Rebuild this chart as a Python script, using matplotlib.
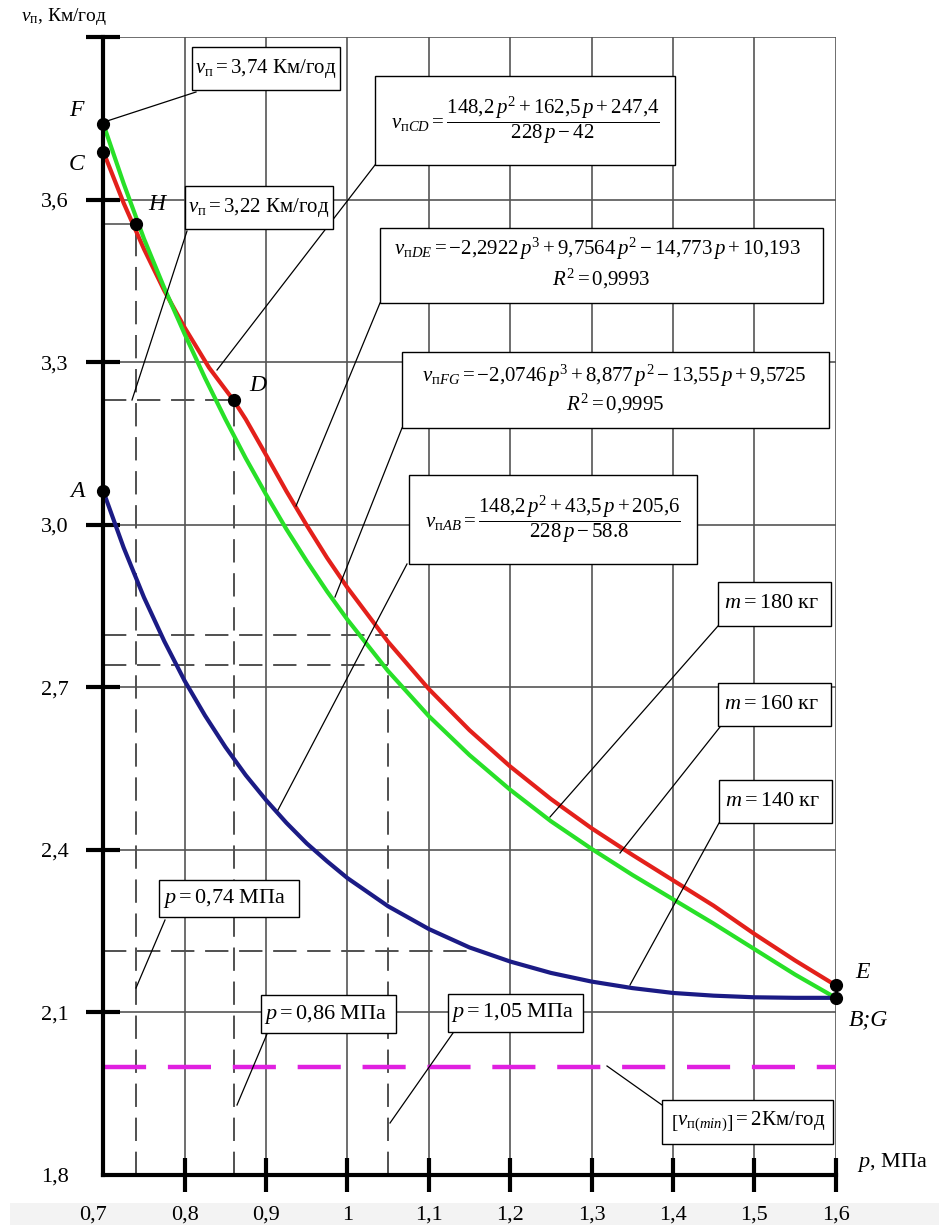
import matplotlib
matplotlib.use('Agg')
import matplotlib.pyplot as plt
from matplotlib.patches import Rectangle
from matplotlib.transforms import ScaledTranslation

plt.rcParams['font.family'] = ['Liberation Serif', 'DejaVu Serif']
plt.rcParams['mathtext.fontset'] = 'custom'
plt.rcParams['mathtext.rm'] = 'Liberation Serif'
plt.rcParams['mathtext.it'] = 'Liberation Serif:italic'
plt.rcParams['mathtext.bf'] = 'Liberation Serif:bold'

# ---------------- data ----------------
p_AB = [0.70, 0.725, 0.75, 0.775, 0.80, 0.825, 0.85, 0.875, 0.90, 0.925, 0.95, 0.975,
        1.00, 1.05, 1.10, 1.15, 1.20, 1.25, 1.30, 1.35, 1.40, 1.45, 1.50, 1.55, 1.60]
v_AB = [3.062, 2.958, 2.866, 2.785, 2.712, 2.648, 2.590, 2.538, 2.492, 2.450, 2.412, 2.379,
        2.348, 2.296, 2.254, 2.220, 2.194, 2.173, 2.157, 2.145, 2.136, 2.131, 2.128, 2.127, 2.127]

p_FG = [0.70, 0.725, 0.75, 0.775, 0.80, 0.825, 0.85, 0.875, 0.90, 0.925, 0.95, 0.975,
        1.00, 1.05, 1.10, 1.15, 1.20, 1.25, 1.30, 1.35, 1.40, 1.45, 1.50, 1.55, 1.60]
v_FG = [3.740, 3.630, 3.528, 3.437, 3.352, 3.271, 3.195, 3.123, 3.056, 2.992, 2.933, 2.877,
        2.825, 2.730, 2.647, 2.575, 2.511, 2.453, 2.402, 2.354, 2.309, 2.264, 2.217, 2.170, 2.127]

p_CD = [0.70, 0.725, 0.75, 0.775, 0.80, 0.83, 0.86]
v_CD = [3.689, 3.594, 3.509, 3.432, 3.364, 3.290, 3.230]

p_DE = [0.86, 0.875, 0.90, 0.925, 0.95, 0.975, 1.00, 1.05, 1.10, 1.15, 1.20, 1.25,
        1.30, 1.35, 1.40, 1.45, 1.50, 1.55, 1.60]
v_DE = [3.230, 3.195, 3.129, 3.062, 2.999, 2.939, 2.884, 2.784, 2.697, 2.621, 2.554, 2.494,
        2.440, 2.391, 2.344, 2.297, 2.245, 2.196, 2.150]

pt_names = ['F', 'C', 'H', 'D', 'A', 'E', 'B;G']
pt_p = [0.70, 0.70, 0.74, 0.86, 0.70, 1.60, 1.60]
pt_v = [3.740, 3.689, 3.555, 3.230, 3.062, 2.150, 2.127]

ref_vert_p = [0.74, 0.86, 1.05]
ref_vert_top = [3.555, 3.230, 2.797]
ref_hor_v = [3.230, 2.797, 2.741, 2.213]
ref_hor_end = [0.86, 1.05, 1.05, 1.152]
v_min = 2.0

x_ticks = [0.7, 0.8, 0.9, 1.0, 1.1, 1.2, 1.3, 1.4, 1.5, 1.6]
x_labels = ['0,7', '0,8', '0,9', '1', '1,1', '1,2', '1,3', '1,4', '1,5', '1,6']
y_ticks = [1.8, 2.1, 2.4, 2.7, 3.0, 3.3, 3.6, 3.9]
y_labels = ['1,8', '2,1', '2,4', '2,7', '3,0', '3,3', '3,6', '']

# ---------------- layout helpers ----------------
W, H = 939, 1225
X0, XPX = 103.3, 813.8     # pixel of p=0.7, pixels per unit of p
Y0, YPX = 1175.0, 541.8    # pixel of v=1.8, pixels per unit of v


def P(px, py):
    return 0.7 + (px - X0) / XPX, 1.8 + (Y0 - py) / YPX


fig = plt.figure(figsize=(W / 100, H / 100), dpi=100)
fig.patch.set_facecolor('white')
fig.patches.append(Rectangle((10 / W, 0), 1 - 10 / W, 22 / H, transform=fig.transFigure,
                             fc='#f3f3f3', ec='none', zorder=-10))
ax = fig.add_axes([X0 / W, (H - Y0) / H, 0.9 * XPX / W, 2.1 * YPX / H])
ax.set_xlim(0.7, 1.6)
ax.set_ylim(1.8, 3.9)
ax.set_facecolor('none')

for s in ['top', 'right']:
    ax.spines[s].set_visible(False)
for s in ['left', 'bottom']:
    ax.spines[s].set_linewidth(3.0)
    ax.spines[s].set_color('black')
    ax.spines[s].set_zorder(8)

ax.set_xticks(x_ticks)
ax.set_xticklabels(x_labels, fontsize=16)
ax.set_yticks(y_ticks)
ax.set_yticklabels(y_labels, fontsize=16)
ax.tick_params(axis='both', direction='inout', length=24, width=3, color='black')
ax.tick_params(axis='x', pad=10)
ax.tick_params(axis='y', pad=13)
ax.xaxis.get_major_ticks()[0].tick1line.set_visible(False)
ax.yaxis.get_major_ticks()[0].tick1line.set_visible(False)
first = ax.get_xticklabels()[0]
first.set_transform(first.get_transform() + ScaledTranslation(-0.10, 0, fig.dpi_scale_trans))

ax.grid(True, color='#555555', lw=1.2)
ax.set_axisbelow(True)

dash_grey = dict(color='#505050', lw=1.4, ls=(0, (12, 5.5)), zorder=2)
for p, top in zip(ref_vert_p, ref_vert_top):
    ax.plot([p, p], [1.8, top], **dash_grey)
for v, end in zip(ref_hor_v, ref_hor_end):
    ax.plot([0.7, end], [v, v], **dash_grey)
ax.plot([0.7, pt_p[2]], [pt_v[2], pt_v[2]], color='#555555', lw=1.2, zorder=2)

ax.plot([0.7, 1.6], [v_min, v_min], color='#e020e0', lw=3.2, ls=(0, (9.7, 4.9)), zorder=3)

ax.plot(p_CD, v_CD, color='#e3201b', lw=3, zorder=4, solid_capstyle='round')
ax.plot(p_DE, v_DE, color='#e3201b', lw=3, zorder=4, solid_capstyle='round')
ax.plot(p_FG, v_FG, color='#28e028', lw=3, zorder=4.5, solid_capstyle='round')
ax.plot(p_AB, v_AB, color='#1b1b85', lw=3, zorder=4.6, solid_capstyle='round')

ax.plot(pt_p, pt_v, 'o', color='black', ms=8.5, zorder=9, clip_on=False)

# point labels (pixel positions in the reference)
lab_pos = [(76, 111), (77, 164), (157, 205), (258, 386), (77, 492), (862, 972), (868, 1020)]
for name, (px, py) in zip(pt_names, lab_pos):
    x, y = P(px, py)
    ax.text(x, y, name, fontsize=17, style='italic', ha='center', va='center', zorder=9)

# axis titles
x, y = P(21, 17)
ax.text(x, y, r'$v_{\mathrm{п}}$, Км/год', fontsize=14, ha='left', va='center')
x, y = P(857, 1163)
ax.text(x, y, r'$p$, МПа', fontsize=16, ha='left', va='center')


def box(x0, y0, x1, y1):
    a, b = P(x0, y1)
    c, d = P(x1, y0)
    ax.add_patch(Rectangle((a, b), c - a, d - b, fc='white', ec='black', lw=1.0,
                           zorder=6, clip_on=False))


def txt(px, py, s, fs=15):
    x, y = P(px, py)
    ax.text(x, y, s, fontsize=fs, ha='center', va='center', zorder=7)


def lead(x1, y1, x2, y2):
    a, b = P(x1, y1)
    c, d = P(x2, y2)
    ax.plot([a, c], [b, d], color='black', lw=0.9, zorder=5, clip_on=False)


# leader lines
lead(196, 92, 104, 122)
lead(375, 165, 217, 370)
lead(187, 231, 132, 400)
lead(380, 303, 296, 506)
lead(402, 428, 335, 597)
lead(407, 564, 278, 810)
lead(718, 626, 550, 817)
lead(720, 727, 620, 853)
lead(719, 823, 630, 985)
lead(607, 1066, 662, 1105)
lead(165, 920, 136, 988)
lead(267, 1034, 237, 1105)
lead(453, 1033, 390, 1123)

# boxes and texts
box(192, 47, 340, 90)
txt(266, 68, r'$v_{\mathrm{п}} = 3{,}74$ Км/год')

box(375, 76, 675, 165)
txt(525, 120, r'$v_{\mathrm{п}CD} = \dfrac{148{,}2\,p^2+162{,}5\,p+247{,}4}{228\,p-42}$')

box(185, 186, 333, 229)
txt(259, 208, r'$v_{\mathrm{п}} = 3{,}22$ Км/год')

box(380, 228, 823, 303)
txt(597, 249, r'$v_{\mathrm{п}DE} = -2{,}2922\,p^3+9{,}7564\,p^2-14{,}773\,p+10{,}193$')
txt(601, 279, r'$R^2 = 0{,}9993$')

box(402, 352, 829, 428)
txt(614, 376, r'$v_{\mathrm{п}FG} = -2{,}0746\,p^3+8{,}877\,p^2-13{,}55\,p+9{,}5725$')
txt(615, 404, r'$R^2 = 0{,}9995$')

box(409, 475, 697, 564)
txt(553, 519, r'$v_{\mathrm{п}AB} = \dfrac{148{,}2\,p^2+43{,}5\,p+205{,}6}{228\,p-58.8}$')

box(718, 582, 831, 626)
txt(772, 604, r'$m = 180$ кг', fs=16)
box(718, 683, 831, 726)
txt(772, 705, r'$m = 160$ кг', fs=16)
box(719, 780, 832, 823)
txt(773, 802, r'$m = 140$ кг', fs=16)

box(662, 1100, 833, 1144)
txt(748, 1122, r'$\left[v_{\mathrm{п}(min)}\right] = 2$Км/год')

box(159, 880, 299, 917)
txt(225, 899, r'$p = 0{,}74$ МПа', fs=16)
box(261, 995, 396, 1033)
txt(326, 1014, r'$p = 0{,}86$ МПа', fs=16)
box(448, 994, 583, 1032)
txt(513, 1013, r'$p = 1{,}05$ МПа', fs=16)

fig.savefig('out.png', dpi=100)
